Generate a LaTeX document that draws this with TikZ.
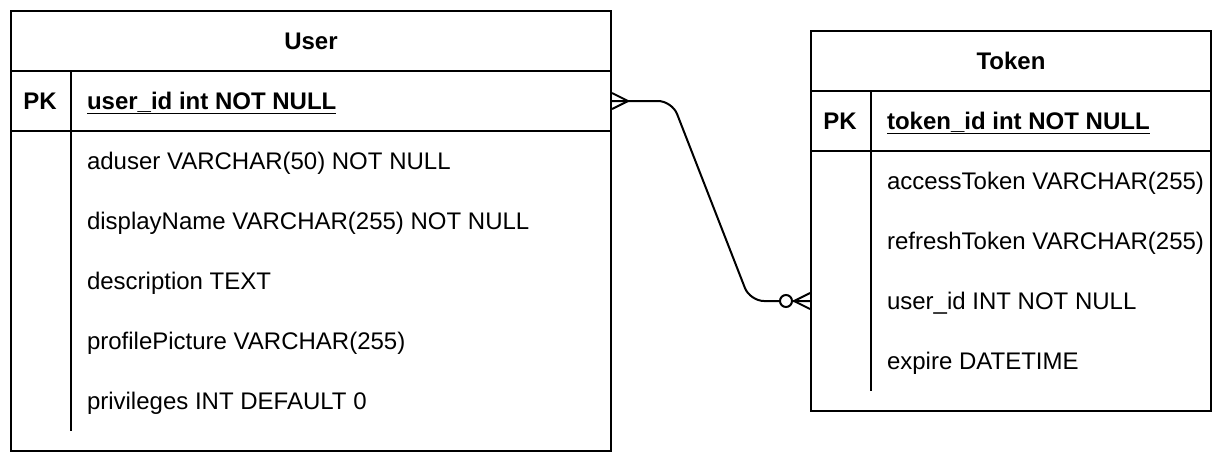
\documentclass[tikz,border=0pt]{standalone}
\usepackage{fontspec}
\setmainfont{Liberation Sans}
\usetikzlibrary{calc}

\begin{document}
\begin{tikzpicture}[x=1pt, y=-1pt, line width=2pt,
  every node/.style={font=\fontsize{24}{28}\selectfont, inner sep=0pt},
  entity/.style={draw, rectangle, line width=2pt},
  title/.style={font=\fontsize{24}{28}\selectfont\bfseries},
  keylbl/.style={font=\fontsize{24}{28}\selectfont\bfseries, text height=19pt, text depth=3pt},
  field/.style={anchor=west, text height=19pt, text depth=3pt},
  keyfield/.style={field, font=\fontsize{24}{28}\selectfont\bfseries}]
  \useasboundingbox (0,0) rectangle (1222,464);

  % User table
  \node[entity, minimum width=600pt, minimum height=440pt] (user) at (311,231) {};
  \node[title] (usertitle) at (311,41) {User};
  \draw (11,71) -- (611,71);
  \draw (11,131) -- (611,131);
  \draw (71,71) -- (71,431);
  \node[keylbl] (userpk) at (40,101) {PK};
  \node[keyfield] (userid) at (86,101) {\underline{user\_id int NOT NULL}};
  \node[field] (aduser) at (86,161) {aduser VARCHAR(50) NOT NULL};
  \node[field] (dispname) at (86,221) {displayName VARCHAR(255) NOT NULL};
  \node[field] (descr) at (86,281) {description TEXT};
  \node[field] (picture) at (86,341) {profilePicture VARCHAR(255)};
  \node[field] (privs) at (86,401) {privileges INT DEFAULT 0};

  % Token table
  \node[entity, minimum width=400pt, minimum height=380pt] (token) at (1011,221) {};
  \node[title] (tokentitle) at (1011,61) {Token};
  \draw (811,91) -- (1211,91);
  \draw (811,151) -- (1211,151);
  \draw (871,91) -- (871,391);
  \node[keylbl] (tokenpk) at (840,121) {PK};
  \node[keyfield] (tokenid) at (886,121) {\underline{token\_id int NOT NULL}};
  \node[field] (access) at (886,181) {accessToken VARCHAR(255)};
  \node[field] (refresh) at (886,241) {refreshToken VARCHAR(255)};
  \node[field] (tokuser) at (886,301) {user\_id INT NOT NULL};
  \node[field] (expire) at (886,361) {expire DATETIME};

  % relation
  \coordinate (relA) at (user.east |- userid);
  \coordinate (relB) at (token.west |- tokuser);
  \draw[rounded corners=14pt] (relA) -- ++(60,0) -- ($(relB)+(-60,0)$) -- (relB);
  \draw ($(relA)+(0,-8)$) -- ($(relA)+(16,0)$) -- ($(relA)+(0,8)$);
  \draw ($(relB)+(0,-8)$) -- ($(relB)+(-16,0)$) -- ($(relB)+(0,8)$);
  \draw[fill=white] ($(relB)+(-24,0)$) circle (6pt);
\end{tikzpicture}
\end{document}
